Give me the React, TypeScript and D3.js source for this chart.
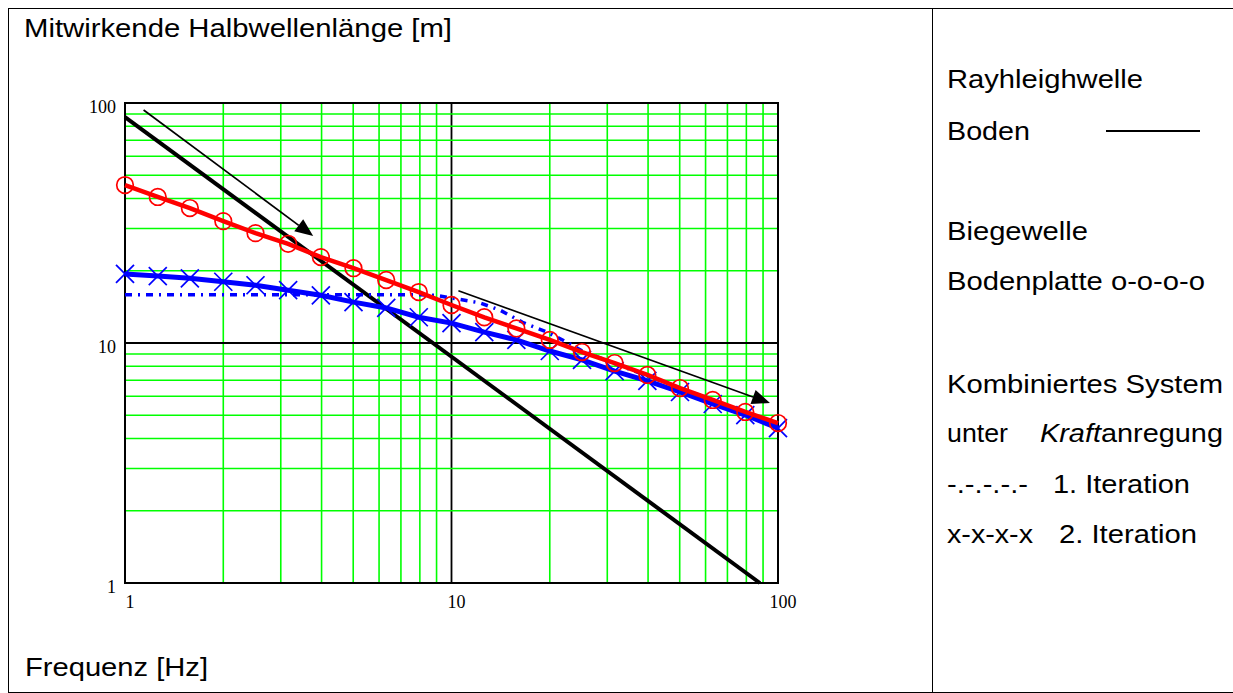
import * as d3 from "d3";

// Frequenz [Hz] an den Markerpositionen (0.1 Dekaden)
const freqs = [1, 1.26, 1.58, 2, 2.51, 3.16, 3.98, 5.01, 6.31, 7.94, 10, 12.6, 15.8, 20, 25.1, 31.6, 39.8, 50.1, 63.1, 79.4, 100];
// Biegewelle Bodenplatte o-o-o-o
const biegewelle = [45.5, 40.6, 36.5, 32.2, 28.7, 25.9, 22.8, 20.5, 18.3, 16.3, 14.4, 12.8, 11.5, 10.3, 9.17, 8.25, 7.36, 6.49, 5.79, 5.16, 4.64];
// 2. Iteration x-x-x-x
const iteration2 = [19.4, 19.0, 18.6, 18.0, 17.4, 16.6, 15.8, 14.8, 14.0, 12.8, 12.1, 11.1, 10.3, 9.26, 8.5, 7.64, 6.95, 6.25, 5.57, 5.01, 4.42];
// 1. Iteration -.-.-.-
const iter1Freqs = [1, 2, 4, 6, 8, 9, 10, 12.2, 14.1, 16.5, 19.6, 22.5, 25, 31.6, 50, 100];
const iteration1 = [15.9, 15.9, 15.9, 15.9, 15.9, 15.8, 15.4, 14.7, 13.7, 12.2, 11.1, 10.1, 9.3, 8.2, 6.5, 4.6];
// Rayhleighwelle Boden
const bodenFreqs = [1, 88];
const boden = [87.4, 1];

const xTicks = [1, 10, 100];
const yTicks = [1, 10, 100];

// Pfeile (Frequenz, Länge)
const arrowFrom = [[1.14, 93.5], [10.5, 16.5]];
const arrowTo = [[3.77, 27.9], [94.5, 5.62]];

const W = 1233;
const H = 693;
const plot = { left: 125, right: 778, top: 103, bottom: 583 };
const sans = "'Liberation Sans', Arial, sans-serif";
const serif = "'Liberation Serif', 'Times New Roman', serif";

export default function App() {
  const x = d3.scaleLog().domain([1, 100]).range([plot.left, plot.right]);
  const y = d3.scaleLog().domain([1, 100]).range([plot.bottom, plot.top]);

  const grid = x.ticks();
  const gridY = y.ticks();

  const line = d3.line<[number, number]>().x(d => x(d[0])).y(d => y(d[1]));
  const pts = (fs: number[], vs: number[]) => fs.map((f, i) => [f, vs[i]] as [number, number]);

  const arrowHead = (from: number[], to: number[]) => {
    const x0 = x(from[0]), y0 = y(from[1]);
    const x1 = x(to[0]), y1 = y(to[1]);
    const a = Math.atan2(y1 - y0, x1 - x0);
    const len = 18, half = 7.5;
    const bx = x1 - len * Math.cos(a), by = y1 - len * Math.sin(a);
    const p = [
      [x1, y1],
      [bx + half * Math.sin(a), by - half * Math.cos(a)],
      [bx - half * Math.sin(a), by + half * Math.cos(a)],
    ];
    return { x0, y0, bx, by, p: p.map(q => q.join(",")).join(" ") };
  };

  const legend = [
    { t: "Rayhleighwelle", x: 947, y: 88, w: 196 },
    { t: "Boden", x: 947, y: 140, w: 83 },
    { t: "Biegewelle", x: 947, y: 240, w: 141 },
    { t: "Bodenplatte o-o-o-o", x: 947, y: 290, w: 258 },
    { t: "Kombiniertes System", x: 947, y: 393, w: 276 },
    { t: "unter", x: 947, y: 442, w: 61 },
    { t: "-.-.-.-.-", x: 947, y: 493, w: 81 },
    { t: "1. Iteration", x: 1053, y: 493, w: 137 },
    { t: "x-x-x-x", x: 947, y: 543, w: 86 },
    { t: "2. Iteration", x: 1059, y: 543, w: 138 },
  ];

  return (
    <div style={{ position: "absolute", left: 0, top: 0 }}>
      <svg width={W} height={H} style={{ display: "block", background: "#fff" }}>
        {/* Tabellenrahmen */}
        <g stroke="#000" strokeWidth={1}>
          <line x1={8} x2={W} y1={8.5} y2={8.5} />
          <line x1={8.5} x2={8.5} y1={8} y2={H} />
          <line x1={932.5} x2={932.5} y1={8} y2={H} />
          <line x1={8} x2={W} y1={692.5} y2={692.5} />
        </g>

        <text x={24} y={37} fontFamily={sans} fontSize={26} textLength={428} lengthAdjust="spacingAndGlyphs">
          Mitwirkende Halbwellenlänge [m]
        </text>
        <text x={25} y={676} fontFamily={sans} fontSize={26} textLength={183} lengthAdjust="spacingAndGlyphs">
          Frequenz [Hz]
        </text>

        {/* Gitter */}
        <g>
          {grid.map(v => (
            <line key={"gx" + v} x1={x(v)} x2={x(v)} y1={plot.top} y2={plot.bottom}
              stroke={v === 10 ? "#000" : "#00ff00"} strokeWidth={v === 10 ? 1.8 : 1.6} />
          ))}
          {gridY.map(v => (
            <line key={"gy" + v} y1={y(v)} y2={y(v)} x1={plot.left} x2={plot.right}
              stroke={v === 10 ? "#000" : "#00ff00"} strokeWidth={v === 10 ? 1.8 : 1.6} />
          ))}
        </g>
        <rect x={plot.left} y={plot.top} width={plot.right - plot.left} height={plot.bottom - plot.top}
          fill="none" stroke="#000" strokeWidth={2} />

        {/* Achsenbeschriftung */}
        <g fontFamily={serif} fontSize={18} fill="#000">
          {yTicks.map(v => (
            <text key={"yt" + v} x={plot.left - 9} y={y(v) + 10} textAnchor="end">{v}</text>
          ))}
          {xTicks.map(v => (
            <text key={"xt" + v} x={x(v) + 5} y={608} textAnchor="middle">{v}</text>
          ))}
        </g>

        {/* Rayhleighwelle Boden */}
        <path d={line(pts(bodenFreqs, boden)) ?? ""} fill="none" stroke="#000" strokeWidth={4} />

        {/* 1. Iteration */}
        <path d={line(pts(iter1Freqs, iteration1)) ?? ""} fill="none" stroke="#0000ff" strokeWidth={3.5}
          strokeDasharray="7,6,2,6" />

        {/* 2. Iteration */}
        <path d={line(pts(freqs, iteration2)) ?? ""} fill="none" stroke="#0000ff" strokeWidth={5} />
        <g stroke="#0000ff" strokeWidth={1.7}>
          {pts(freqs, iteration2).map((d, i) => (
            <g key={"x" + i} transform={`translate(${x(d[0])},${y(d[1])})`}>
              <line x1={-9} y1={-9} x2={9} y2={9} />
              <line x1={-9} y1={9} x2={9} y2={-9} />
            </g>
          ))}
        </g>

        {/* Biegewelle Bodenplatte */}
        <path d={line(pts(freqs, biegewelle)) ?? ""} fill="none" stroke="#ff0000" strokeWidth={4.5} />
        <g stroke="#ff0000" strokeWidth={1.7} fill="none">
          {pts(freqs, biegewelle).map((d, i) => (
            <circle key={"o" + i} cx={x(d[0])} cy={y(d[1])} r={8.3} />
          ))}
        </g>

        {/* Pfeile */}
        {arrowFrom.map((f, i) => {
          const a = arrowHead(f, arrowTo[i]);
          return (
            <g key={"ar" + i}>
              <line x1={a.x0} y1={a.y0} x2={a.bx} y2={a.by} stroke="#000" strokeWidth={1.7} />
              <polygon points={a.p} fill="#000" />
            </g>
          );
        })}

        {/* Legende */}
        <g fontFamily={sans} fontSize={26} fill="#000">
          {legend.map(l => (
            <text key={l.t} x={l.x} y={l.y} textLength={l.w} lengthAdjust="spacingAndGlyphs">{l.t}</text>
          ))}
          <text x={1040} y={442} textLength={183} lengthAdjust="spacingAndGlyphs">
            <tspan fontStyle="italic">Kraft</tspan>anregung
          </text>
        </g>
        <line x1={1106} x2={1200} y1={131} y2={131} stroke="#000" strokeWidth={2} />
      </svg>
    </div>
  );
}
